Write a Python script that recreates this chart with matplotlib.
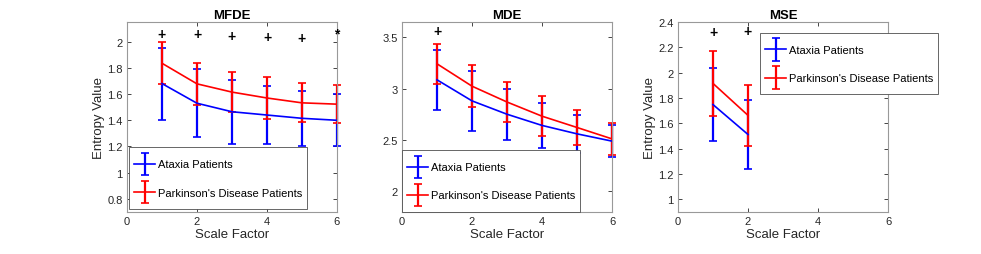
import numpy as np
import matplotlib.pyplot as plt
from matplotlib.legend_handler import HandlerErrorbar
from matplotlib.container import ErrorbarContainer
from matplotlib.ticker import FormatStrFormatter

plt.switch_backend('Agg')
plt.rcParams['font.family'] = ['Liberation Sans', 'DejaVu Sans']

# Scale factors
scale_mfde = [1, 2, 3, 4, 5, 6]
scale_mde = [1, 2, 3, 4, 5, 6]
scale_mse = [1, 2]

# MFDE
mfde_ataxia = [1.68, 1.53, 1.465, 1.44, 1.415, 1.40]
mfde_ataxia_sd = [0.275, 0.26, 0.243, 0.22, 0.21, 0.198]
mfde_pd = [1.835, 1.678, 1.615, 1.57, 1.533, 1.523]
mfde_pd_sd = [0.16, 0.158, 0.155, 0.16, 0.148, 0.147]
mfde_sig_x = [1, 2, 3, 4, 5, 6]
mfde_sig_y = [2.06, 2.058, 2.043, 2.035, 2.03, 2.062]
mfde_sig_sym = ['+', '+', '+', '+', '+', '*']

# MDE
mde_ataxia = [3.087, 2.882, 2.752, 2.643, 2.561, 2.49]
mde_ataxia_sd = [0.29, 0.29, 0.25, 0.218, 0.187, 0.155]
mde_pd = [3.243, 3.025, 2.871, 2.733, 2.623, 2.512]
mde_pd_sd = [0.193, 0.207, 0.192, 0.195, 0.173, 0.158]
mde_sig_x = [1]
mde_sig_y = [3.56]
mde_sig_sym = ['+']

# MSE
mse_ataxia = [1.748, 1.512]
mse_ataxia_sd = [0.287, 0.275]
mse_pd = [1.915, 1.663]
mse_pd_sd = [0.258, 0.24]
mse_sig_x = [1, 2]
mse_sig_y = [2.32, 2.33]
mse_sig_sym = ['+', '+']

labels = ["Ataxia Patients", "Parkinson's Disease Patients"]

panels = [
    ("MFDE", scale_mfde, mfde_ataxia, mfde_ataxia_sd, mfde_pd, mfde_pd_sd,
     mfde_sig_x, mfde_sig_y, mfde_sig_sym, (0.7, 2.15), np.arange(0.8, 2.01, 0.2), True),
    ("MDE", scale_mde, mde_ataxia, mde_ataxia_sd, mde_pd, mde_pd_sd,
     mde_sig_x, mde_sig_y, mde_sig_sym, (1.8, 3.65), np.arange(2, 3.51, 0.5), False),
    ("MSE", scale_mse, mse_ataxia, mse_ataxia_sd, mse_pd, mse_pd_sd,
     mse_sig_x, mse_sig_y, mse_sig_sym, (0.9, 2.4), np.arange(1, 2.41, 0.2), True),
]

legend_pos = [('lower left', (0.01, 0.015)),
              ('lower left', (0.0, 0.0)),
              ('upper left', (0.392, 0.944))]


class CenteredErrorbar(HandlerErrorbar):
    # default handler puts the bar above the centre of the handle box
    def create_artists(self, legend, orig_handle, xdescent, ydescent,
                       width, height, fontsize, trans):
        return super().create_artists(legend, orig_handle, xdescent, 2 * ydescent,
                                      width, height, fontsize, trans)


lefts = [127 / 981, 402 / 981, 678 / 981]
fig = plt.figure(figsize=(9.81, 2.55), dpi=100)

axis_col = '0.15'

for i, (title, x, a, a_sd, p, p_sd, sx, sy, ssym, ylim, yticks, ylab) in enumerate(panels):
    ax = fig.add_axes([lefts[i], 42 / 255, 210 / 981, 190 / 255])
    handles = []
    for vals, sd, col, lab in [(a, a_sd, 'blue', labels[0]), (p, p_sd, 'red', labels[1])]:
        eb = ax.errorbar(x, vals, yerr=sd, color=col, lw=1.2, elinewidth=1.6,
                         capsize=3, capthick=1.2, label=lab)
        # keep the bars at the right edge visible, as in the original
        for art in [eb.lines[0], *eb.lines[1], *eb.lines[2]]:
            art.set_clip_on(False)
        handles.append(eb)
    for xx, yy, s in zip(sx, sy, ssym):
        ax.text(xx, yy, s, ha='center', va='center', fontsize=10,
                fontweight='bold', color='black')
    ax.set_xlim(0, 6)
    ax.set_ylim(*ylim)
    ax.set_xticks([0, 2, 4, 6])
    ax.set_yticks(yticks)
    ax.yaxis.set_major_formatter(FormatStrFormatter('%g'))
    ax.tick_params(direction='in', length=3, width=0.6, top=True, right=True,
                   labelsize=8, colors=axis_col, pad=3)
    for sp in ax.spines.values():
        sp.set_color('0.6')
        sp.set_linewidth(0.8)
    ax.set_title(title, fontsize=9.5, fontweight='bold', pad=3)
    ax.set_xlabel("Scale Factor", fontsize=9.5, color=axis_col, labelpad=1)
    if ylab:
        ax.set_ylabel("Entropy Value", fontsize=9.5, color=axis_col, labelpad=2)
    loc, anchor = legend_pos[i]
    leg = ax.legend(handles=handles, loc=loc, bbox_to_anchor=anchor,
                    borderaxespad=0, fontsize=8, fancybox=False, framealpha=1,
                    edgecolor='0.3', handleheight=2.9, handlelength=1.9,
                    handletextpad=0.25, labelspacing=0.4, borderpad=0.45,
                    handler_map={ErrorbarContainer: CenteredErrorbar(yerr_size=1.0)})
    leg.get_frame().set_linewidth(0.6)
    leg.set_zorder(5)

fig.savefig("out.png", dpi=100)
